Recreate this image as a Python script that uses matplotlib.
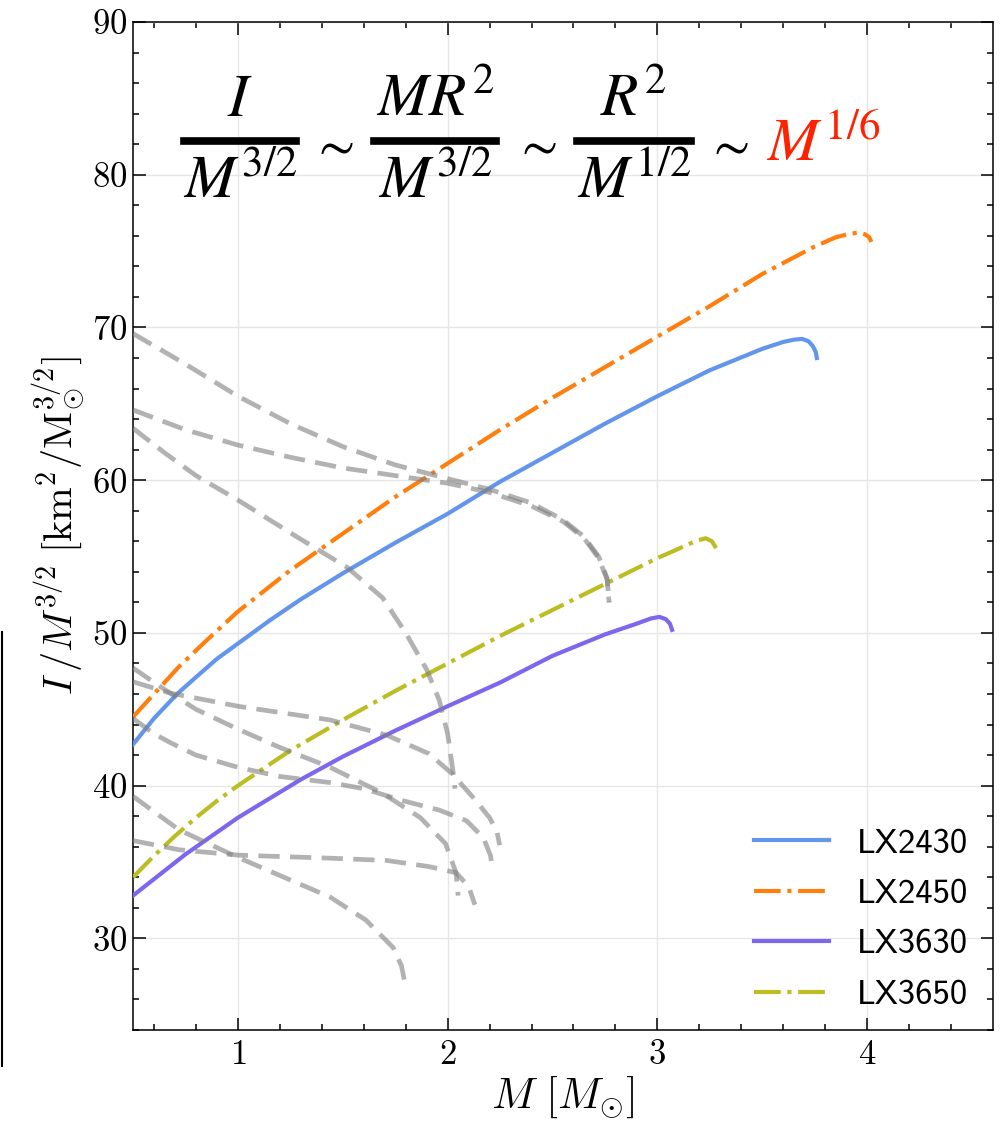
import numpy as np
import matplotlib

matplotlib.use("Agg")
import matplotlib.pyplot as plt
from matplotlib.lines import Line2D

plt.rcParams.update({
    "font.family": "serif",
    "font.serif": ["cmr10"],
    "mathtext.fontset": "cm",
    "axes.unicode_minus": False,
    "axes.formatter.use_mathtext": True,
})

# ── colored EOS curves ───────────────────────────────────────────────────────
lx2430_M = [0.5, 0.6, 0.71, 0.8, 0.9, 1.0, 1.15, 1.3, 1.5, 1.75, 2.0, 2.25, 2.5,
            2.75, 3.0, 3.25, 3.5, 3.6, 3.65, 3.69, 3.72, 3.74, 3.755, 3.76]
lx2430_I = [42.7, 44.4, 46.0, 47.1, 48.3, 49.3, 50.8, 52.2, 53.9, 55.9, 57.8,
            59.9, 61.8, 63.7, 65.5, 67.2, 68.6, 69.05, 69.2, 69.25, 69.1, 68.8,
            68.4, 68.0]
lx2450_M = [0.5, 0.6, 0.72, 0.85, 1.0, 1.25, 1.5, 1.75, 2.0, 2.25, 2.5, 2.75,
            3.0, 3.25, 3.5, 3.75, 3.85, 3.92, 3.96, 3.99, 4.01, 4.02]
lx2450_I = [44.5, 46.0, 47.8, 49.5, 51.4, 54.1, 56.5, 58.9, 61.1, 63.3, 65.4,
            67.4, 69.4, 71.4, 73.5, 75.3, 75.9, 76.15, 76.2, 76.1, 75.9, 75.6]
lx3630_M = [0.5, 0.75, 1.0, 1.3, 1.5, 1.75, 2.0, 2.25, 2.5, 2.75, 2.9, 2.97,
            3.01, 3.04, 3.06, 3.07]
lx3630_I = [32.8, 35.5, 37.9, 40.4, 41.9, 43.6, 45.2, 46.75, 48.5, 49.9, 50.6,
            50.95, 51.05, 50.9, 50.6, 50.2]
lx3650_M = [0.5, 0.6, 0.7, 0.8, 0.9, 1.0, 1.25, 1.5, 1.75, 2.0, 2.25, 2.5, 2.75,
            3.0, 3.1, 3.18, 3.23, 3.26, 3.28]
lx3650_I = [34.0, 35.4, 36.7, 37.9, 39.0, 40.0, 42.3, 44.3, 46.2, 48.0, 49.8,
            51.5, 53.2, 54.9, 55.5, 56.0, 56.2, 56.0, 55.55]

# ── grey comparison curves ───────────────────────────────────────────────────
grey_M = [
    [0.5, 0.75, 1.0, 1.25, 1.5, 1.75, 2.0, 2.2, 2.4, 2.55, 2.65, 2.72, 2.76, 2.77],
    [0.5, 0.75, 1.0, 1.25, 1.5, 1.75, 2.0, 2.2, 2.4, 2.55, 2.65, 2.72, 2.76, 2.77],
    [0.5, 0.65, 0.8, 1.0, 1.28, 1.52, 1.69, 1.8, 1.9, 1.96, 2.0, 2.025, 2.035],
    [0.5, 0.65, 0.8, 1.0, 1.2, 1.44, 1.69, 1.87, 1.99, 2.04, 2.05],
    [0.5, 0.68, 1.0, 1.44, 1.71, 1.91, 2.02, 2.12, 2.2, 2.235, 2.248],
    [0.5, 0.6, 0.68, 0.8, 1.0, 1.2, 1.44, 1.6, 1.79, 1.96, 2.09, 2.17, 2.205, 2.21],
    [0.5, 0.72, 1.0, 1.44, 1.61, 1.74, 1.78, 1.80],
    [0.5, 0.72, 1.0, 1.44, 1.71, 1.91, 2.04, 2.1, 2.13],
]
grey_I = [
    [69.6, 67.6, 65.5, 63.7, 62.2, 61.0, 60.1, 59.4, 58.5, 57.4, 56.3, 55.0, 53.6, 52.0],
    [64.6, 63.3, 62.3, 61.5, 60.8, 60.3, 59.8, 59.2, 58.3, 57.3, 56.2, 54.9, 53.5, 52.0],
    [63.4, 61.8, 60.3, 58.7, 56.3, 54.3, 52.3, 50.0, 47.6, 45.6, 43.4, 41.0, 39.8],
    [47.7, 46.3, 45.0, 43.7, 42.5, 41.2, 39.5, 37.9, 36.2, 34.3, 32.8],
    [46.8, 46.05, 45.2, 44.3, 43.3, 42.1, 40.8, 39.25, 37.9, 37.0, 36.1],
    [44.4, 43.4, 42.8, 42.0, 41.2, 40.6, 40.2, 39.8, 39.0, 38.4, 37.7, 36.6, 35.4, 34.8],
    [39.3, 37.1, 35.3, 32.7, 31.2, 29.4, 28.2, 26.8],
    [36.4, 35.8, 35.45, 35.25, 35.1, 34.7, 34.3, 33.4, 32.2],
]

W, H = 1002, 1127
fig = plt.figure(figsize=(W / 100, H / 100), dpi=100)
ax = fig.add_axes([133 / W, 1 - 1030 / H, 860 / W, 1008 / H])

ax.plot(lx2430_M, lx2430_I, color="#6495ed", lw=3.0, label="LX2430", zorder=3)
ax.plot(lx2450_M, lx2450_I, color="#ff7f0e", lw=3.0, ls="-.", label="LX2450", zorder=3)
ax.plot(lx3630_M, lx3630_I, color="#7b68ee", lw=3.0, label="LX3630", zorder=3)
ax.plot(lx3650_M, lx3650_I, color="#bcbd22", lw=3.0, ls="-.", label="LX3650", zorder=3)
for gm, gi in zip(grey_M, grey_I):
    ax.plot(gm, gi, color="gray", lw=3.4, ls=(0, (4.5, 2.2)), alpha=0.6, zorder=4)

ax.set_xlim(0.5, 4.6)
ax.set_ylim(24, 90)
ax.set_xticks([1, 2, 3, 4])
ax.set_yticks([30, 40, 50, 60, 70, 80, 90])
ax.set_xticks(np.arange(0.6, 4.6, 0.2), minor=True)
ax.set_yticks(np.arange(24, 90, 2), minor=True)
ax.tick_params(which="both", direction="in", top=True, right=True, width=1.1,
               labelsize=25)
ax.tick_params(which="major", length=9)
ax.tick_params(which="minor", length=4.5)
ax.tick_params(axis="x", pad=7)
ax.tick_params(axis="y", pad=4)
for sp in ax.spines.values():
    sp.set_linewidth(1.1)
ax.grid(True, which="major", color="#e6e6e6", lw=1.0, zorder=0)

ax.set_xlabel(r"$M\ [M_{\odot}]$", fontsize=31, labelpad=2)
ax.set_ylabel(r"$I\,/M^{3/2}\;[\mathrm{km}^2/\mathrm{M}_{\odot}^{3/2}]$",
              fontsize=29, labelpad=4)

ax.legend(loc="lower right", frameon=False, prop={"family": "cmss10", "size": 25},
          handlelength=2.15, handletextpad=0.8, labelspacing=0.55,
          bbox_to_anchor=(1.007, -0.012))


# ── formula at the top, laid out in pixel positions ─────────────────────────
def fx(px):
    return px / W


def fy(py):
    return 1 - py / H


def mtext(px, py, s, color="k", ha="center", va="baseline", size=44):
    fig.text(fx(px), fy(py), s, ha=ha, va=va, color=color, fontsize=size,
             math_fontfamily="stix")


def bar(x0, x1, py):
    fig.add_artist(Line2D([fx(x0), fx(x1)], [fy(py), fy(py)],
                          color="k", lw=5.5, transform=fig.transFigure))


bar(184, 296, 141)
mtext(240, 116, r"$I$")
mtext(240, 198, r"$M^{3/2}$")
mtext(333, 161, r"$\sim$", size=38)
bar(374, 496, 141)
mtext(435, 116, r"$MR^2$")
mtext(435, 198, r"$M^{3/2}$")
mtext(536, 161, r"$\sim$", size=38)
bar(577, 691, 141)
mtext(634, 116, r"$R^2$")
mtext(634, 198, r"$M^{1/2}$")
mtext(728, 161, r"$\sim$", size=38)
mtext(766, 161, r"$M^{1/6}$", color="#ff2200", ha="left")

# stray vertical rule at the left edge of the original figure
fig.add_artist(Line2D([1.5 / W, 1.5 / W], [fy(632), fy(1066)], color="k",
                      lw=1.5, transform=fig.transFigure))

fig.savefig("out.png", dpi=100)
